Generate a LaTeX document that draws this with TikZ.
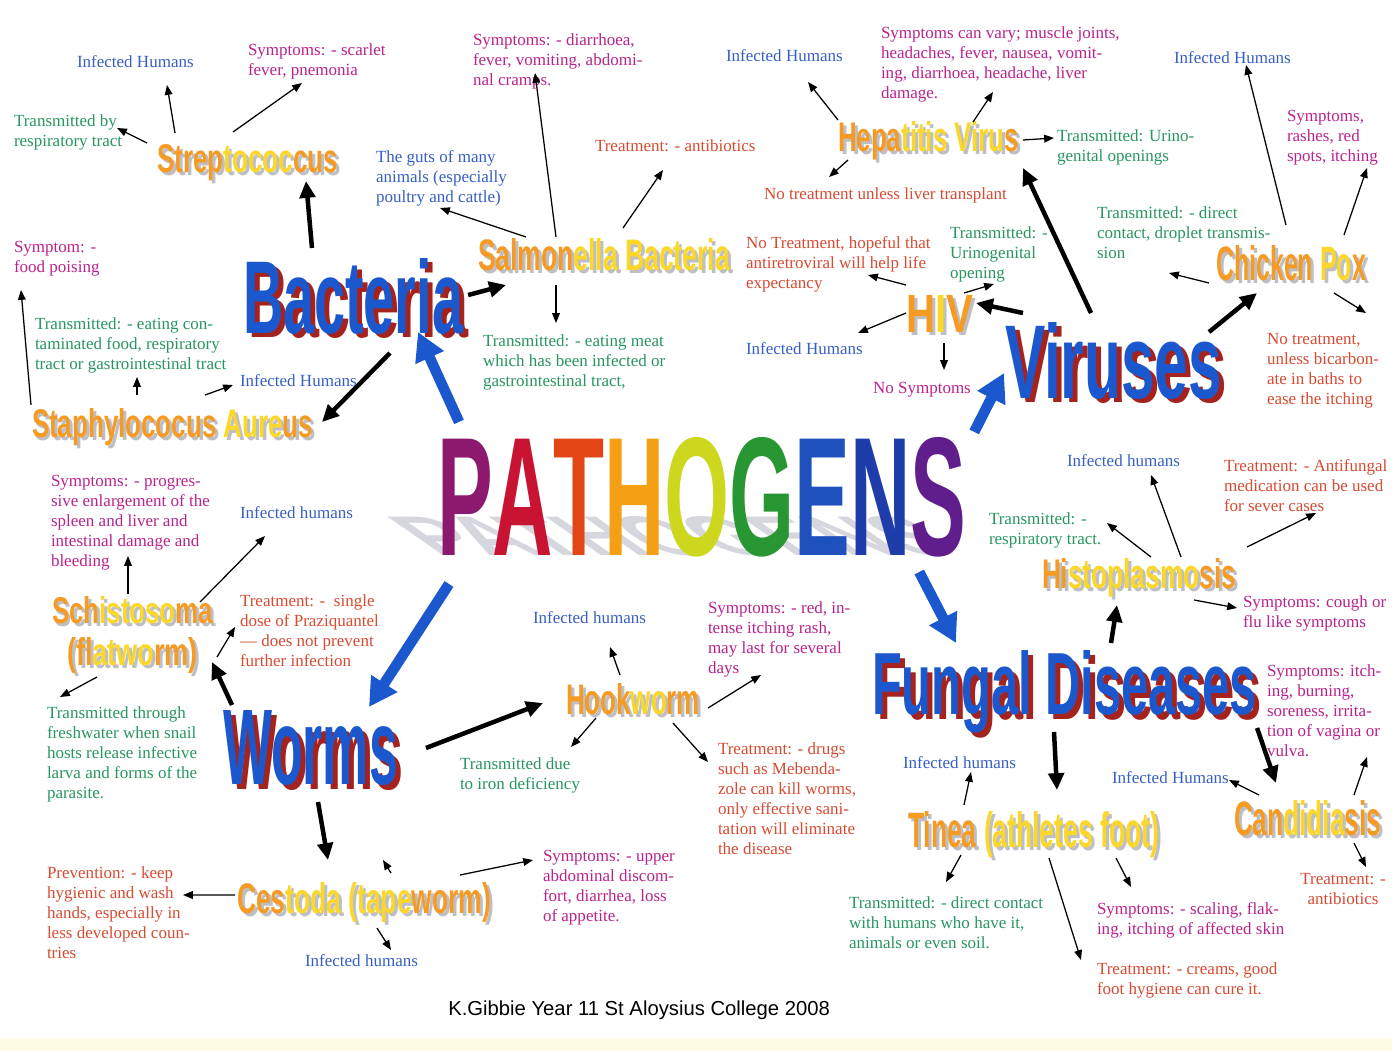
\documentclass[tikz,border=0pt]{standalone}
\usepackage{fontspec}
\setmainfont{Liberation Serif}
\setsansfont{Liberation Sans}
\newfontfamily\headfont{Liberation Sans}
\usepackage{graphicx}
\usetikzlibrary{arrows.meta,calc}

\definecolor{infblue}{RGB}{55,95,195}
\definecolor{symmag}{RGB}{185,35,140}
\definecolor{trngreen}{RGB}{40,150,95}
\definecolor{trtred}{RGB}{215,75,50}
\definecolor{mainblue}{RGB}{28,88,205}
\definecolor{mainshadow}{RGB}{165,35,30}
\definecolor{suborange}{RGB}{245,155,35}
\definecolor{subyel}{RGB}{250,215,40}
\definecolor{subshadow}{RGB}{190,190,198}
\definecolor{pathshade}{RGB}{214,214,222}
\definecolor{bandyel}{RGB}{254,251,228}
\definecolor{pthP}{RGB}{140,25,110}
\definecolor{pthA}{RGB}{200,20,50}
\definecolor{pthT}{RGB}{225,70,20}
\definecolor{pthH}{RGB}{245,160,20}
\definecolor{pthO}{RGB}{205,215,30}
\definecolor{pthG}{RGB}{40,150,50}
\definecolor{pthE}{RGB}{30,80,190}
\definecolor{pthN}{RGB}{30,60,170}
\definecolor{pthS}{RGB}{95,30,140}

% one pixel of the sheet
\newlength\pxu
\setlength\pxu{0.025cm}
\newcommand\plainarg[1]{#1}
\newcommand\yel[1]{\textcolor{subyel}{#1}}
% width, height, text -- with grey drop shadow
\newcommand\subhead[3]{%
  \rlap{\kern3\pxu\raisebox{-3\pxu}{\color{subshadow}\let\yel\plainarg\resizebox{#1\pxu}{#2\pxu}{#3}}}%
  \resizebox{#1\pxu}{#2\pxu}{#3}}
% width, height, text -- with red drop shadow
\newcommand\mainhead[3]{%
  \rlap{\kern5\pxu\raisebox{-5\pxu}{\color{mainshadow}\resizebox{#1\pxu}{#2\pxu}{#3}}}%
  \resizebox{#1\pxu}{#2\pxu}{#3}}

\begin{document}
\begin{tikzpicture}[x=0.025cm,y=-0.025cm,
  txt/.style={anchor=north west,inner sep=0pt,outer sep=0pt,align=left,
    font=\fontsize{12.1}{14.2}\selectfont},
  inf/.style={txt,text=infblue},
  sym/.style={txt,text=symmag},
  trn/.style={txt,text=trngreen},
  trt/.style={txt,text=trtred},
  sub/.style={anchor=base west,inner sep=0pt,outer sep=0pt,
    font=\headfont\bfseries,text=suborange},
  main/.style={sub,text=mainblue},
  credit/.style={anchor=base west,inner sep=0pt,font=\sffamily\fontsize{14.4}{17}\selectfont},
  arr/.style={-{Triangle[length=7pt,width=5.5pt]},line width=0.9pt},
  bigarr/.style={-{Triangle[length=12pt,width=11pt]},line width=3.2pt},
  bluearr/.style={-{Triangle[length=20pt,width=21pt]},draw=mainblue,line width=7.5pt}]
  \useasboundingbox (0,0) rectangle (1392,1051);
  \fill[white] (0,0) rectangle (1392,1051);
  \fill[bandyel] (0,1038) rectangle (1392,1051);

  % centre word and its flat shadow
  \begin{scope}[shift={(437,555)},xslant=-1.44,yscale=0.33]
    \node[sub,text=pathshade,transform shape] (pathsh) at (0,0) {\resizebox{529\pxu}{118\pxu}{PATHOGENS}};
  \end{scope}
  \node[sub] (path) at (437,555) {\resizebox{529\pxu}{118\pxu}{%
    \textcolor{pthP}{P}\textcolor{pthA}{A}\textcolor{pthT}{T}\textcolor{pthH}{H}%
    \textcolor{pthO}{O}\textcolor{pthG}{G}\textcolor{pthE}{E}\textcolor{pthN}{N}\textcolor{pthS}{S}}};

  % main groups
  \node[main] (bact) at (243,333) {\mainhead{220}{75}{Bacteria}};
  \node[main] (vir) at (1005,398) {\mainhead{217}{76}{Viruses}};
  \node[main] (worms) at (223,784) {\mainhead{175}{74}{Worms}};
  \node[main] (fung) at (872,714) {\mainhead{385}{64}{Fungal Diseases}};

  % diseases
  \node[sub] (strep) at (157,173) {\subhead{181}{28}{Strep\yel{tococ}cus}};
  \node[sub] (salm) at (478,270) {\subhead{252}{32}{Salmon\yel{ella Bacteria}}};
  \node[sub] (staph) at (32,437) {\subhead{281}{29}{Staphylococus \yel{Aure}us}};
  \node[sub] (hep) at (838,152) {\subhead{181}{30}{Hepa\yel{titis Viru}s}};
  \node[sub] (hiv) at (906,332) {\subhead{67}{37}{H\yel{I}V}};
  \node[sub] (chick) at (1216,280) {\subhead{150}{35}{Chicken \yel{Po}x}};
  \node[sub] (schis) at (52,623) {\subhead{161}{27}{Sch\yel{istoso}ma}};
  \node[sub] (flat) at (67,665) {\subhead{131}{28}{(fl\yel{atwo}rm)}};
  \node[sub] (hook) at (566,714) {\subhead{134}{31}{Hook\yel{wo}rm}};
  \node[sub] (cest) at (237,913) {\subhead{254}{31}{Ces\yel{toda (tape}worm)}};
  \node[sub] (histo) at (1042,588) {\subhead{194}{30}{Hi\yel{stoplasmo}sis}};
  \node[sub] (tinea) at (908,847) {\subhead{251}{36}{Tinea \yel{(athletes foot)}}};
  \node[sub] (cand) at (1234,835) {\subhead{147}{35}{Can\yel{didia}sis}};

  % notes
  \node[inf] (strepInf) at (77,56) {Infected Humans};
  \node[sym] (strepSym) at (248,44) {Symptoms: - scarlet\\fever, pnemonia};
  \node[trn] (strepTr) at (14,115) {Transmitted by\\respiratory tract};
  \node[sym] (staphSym) at (14,241) {Symptom: -\\food poising};
  \node[trn] (staphTr) at (35,318) {Transmitted: - eating con-\\taminated food, respiratory\\tract or gastrointestinal tract};
  \node[inf] (staphInf) at (240,375) {Infected Humans};
  \node[inf] (salmGut) at (376,151) {The guts of many\\animals (especially\\poultry and cattle)};
  \node[sym] (salmSym) at (473,34) {Symptoms: - diarrhoea,\\fever, vomiting, abdomi-\\nal cramps.};
  \node[trt] (salmTrt) at (595,140) {Treatment: - antibiotics};
  \node[trn] (salmTr) at (483,335) {Transmitted: - eating meat\\which has been infected or\\gastrointestinal tract,};
  \node[inf] (hepInf) at (726,50) {Infected Humans};
  \node[sym] (hepSym) at (881,27) {Symptoms can vary; muscle joints,\\headaches, fever, nausea, vomit-\\ing, diarrhoea, headache, liver\\damage.};
  \node[trn] (hepTr) at (1057,130) {Transmitted: Urino-\\genital openings};
  \node[trt] (hepTrt) at (764,188) {No treatment unless liver transplant};
  \node[trt] (hivTrt) at (746,237) {No Treatment, hopeful that\\antiretroviral will help life\\expectancy};
  \node[trn] (hivTr) at (950,227) {Transmitted: -\\Urinogenital\\opening};
  \node[inf] (hivInf) at (746,343) {Infected Humans};
  \node[sym] (hivSym) at (873,382) {No Symptoms};
  \node[inf] (chickInf) at (1174,52) {Infected Humans};
  \node[sym] (chickSym) at (1287,110) {Symptoms,\\rashes, red\\spots, itching};
  \node[trn] (chickTr) at (1097,207) {Transmitted: - direct\\contact, droplet transmis-\\sion};
  \node[trt] (chickTrt) at (1267,333) {No treatment,\\unless bicarbon-\\ate in baths to\\ease the itching};
  \node[sym] (schisSym) at (51,475) {Symptoms: - progres-\\sive enlargement of the\\spleen and liver and\\intestinal damage and\\bleeding};
  \node[inf] (schisInf) at (240,507) {Infected humans};
  \node[trt] (schisTrt) at (240,595) {Treatment: -\ \ single\\dose of Praziquantel\\— does not prevent\\further infection};
  \node[trn] (schisTr) at (47,707) {Transmitted through\\freshwater when snail\\hosts release infective\\larva and forms of the\\parasite.};
  \node[trt] (cestPrev) at (47,867) {Prevention: - keep\\hygienic and wash\\hands, especially in\\less developed coun-\\tries};
  \node[inf] (cestInf) at (305,955) {Infected humans};
  \node[sym] (cestSym) at (543,850) {Symptoms: - upper\\abdominal discom-\\fort, diarrhea, loss\\of appetite.};
  \node[inf] (hookInf) at (533,612) {Infected humans};
  \node[trn] (hookTr) at (460,758) {Transmitted due\\to iron deficiency};
  \node[sym] (hookSym) at (708,602) {Symptoms: - red, in-\\tense itching rash,\\may last for several\\days};
  \node[trt] (hookTrt) at (718,743) {Treatment: - drugs\\such as Mebenda-\\zole can kill worms,\\only effective sani-\\tation will eliminate\\the disease};
  \node[inf] (histoInf) at (1067,455) {Infected humans};
  \node[trt] (histoTrt) at (1224,460) {Treatment: - Antifungal\\medication can be used\\for sever cases};
  \node[trn] (histoTr) at (989,513) {Transmitted: -\\respiratory tract.};
  \node[sym] (histoSym) at (1243,596) {Symptoms: cough or\\flu like symptoms};
  \node[sym] (candSym) at (1267,665) {Symptoms: itch-\\ing, burning,\\soreness, irrita-\\tion of vagina or\\vulva.};
  \node[inf] (tineaInf) at (903,757) {Infected humans};
  \node[inf] (candInf) at (1112,772) {Infected Humans};
  \node[trn] (tineaTr) at (849,897) {Transmitted: - direct contact\\with humans who have it,\\animals or even soil.};
  \node[sym] (tineaSym) at (1097,903) {Symptoms: - scaling, flak-\\ing, itching of affected skin};
  \node[trt] (tineaTrt) at (1097,963) {Treatment: - creams, good\\foot hygiene can cure it.};
  \node[trt,anchor=north,align=center] (candTrt) at (1343,873) {Treatment: -\\antibiotics};
  \node[credit] (credit) at (448,1015) {K.Gibbie Year 11 St Aloysius College 2008};
  \coordinate (cestFree) at (383,860);

  % pathogens to groups
  \draw[bluearr] ([shift={(22,-15)}]path.north west) -- ([shift={(175,-1)}]bact.base west);
  \draw[bluearr] ([shift={(12,29)}]path.base west) -- ([shift={(146,-3)}]worms.north west);
  \draw[bluearr] ([shift={(8,-5)}]path.north east) -- ([shift={(-1,51)}]vir.north west);
  \draw[bluearr] ([shift={(-47,17)}]path.base east) -- ([shift={(84,-7)}]fung.north west);

  % groups to diseases
  \draw[bigarr] ([shift={(69,-10)}]bact.north west) -- ([shift={(149,36)}]strep.north west);
  \draw[bigarr] ([shift={(5,37)}]bact.north east) -- ([shift={(28,15)}]salm.base west);
  \draw[bigarr] ([shift={(147,20)}]bact.base west) -- ([shift={(9,-15)}]staph.base east);
  \draw[bigarr] ([shift={(86,-9)}]vir.north west) -- ([shift={(4,16)}]hep.base east);
  \draw[bigarr] ([shift={(18,-9)}]vir.north west) -- ([shift={(70,8)}]hiv.north west);
  \draw[bigarr] ([shift={(204,10)}]vir.north west) -- ([shift={(41,13)}]chick.base west);
  \draw[bigarr] ([shift={(9,-5)}]worms.north west) -- ([shift={(14,-3)}]flat.base east);
  \draw[bigarr] ([shift={(28,38)}]worms.north east) -- ([shift={(-23,-11)}]hook.base west);
  \draw[bigarr] ([shift={(95,18)}]worms.base west) -- ([shift={(91,-22)}]cest.north west);
  \draw[bigarr] ([shift={(239,-7)}]fung.north west) -- ([shift={(75,17)}]histo.base west);
  \draw[bigarr] ([shift={(182,18)}]fung.base west) -- ([shift={(149,-21)}]tinea.north west);
  \draw[bigarr] ([shift={(0,14)}]fung.base east) -- ([shift={(42,-17)}]cand.north west);

  % diseases to notes
  \draw[arr] ([shift={(18,-12)}]strep.north west) -- ([shift={(90,29)}]strepInf.north west);
  \draw[arr] ([shift={(76,-13)}]strep.north west) -- ([shift={(54,39)}]strepSym.north west);
  \draw[arr] ([shift={(-10,-2)}]strep.north west) -- ([shift={(103,13)}]strepTr.north west);
  \draw[arr] ([shift={(-1,-3)}]staph.north west) -- ([shift={(7,49)}]staphSym.north west);
  \draw[arr] ([shift={(105,-13)}]staph.north west) -- ([shift={(102,59)}]staphTr.north west);
  \draw[arr] ([shift={(173,-13)}]staph.north west) -- ([shift={(-7,10)}]staphInf.north west);
  \draw[arr] ([shift={(78,-1)}]salm.north west) -- ([shift={(62,39)}]salmSym.north west);
  \draw[arr] ([shift={(48,-1)}]salm.north west) -- ([shift={(64,57)}]salmGut.north west);
  \draw[arr] ([shift={(145,-10)}]salm.north west) -- ([shift={(68,30)}]salmTrt.north west);
  \draw[arr] ([shift={(78,15)}]salm.base west) -- ([shift={(73,-12)}]salmTr.north west);
  \draw[arr] ([shift={(0,-2)}]hep.north west) -- ([shift={(82,32)}]hepInf.north west);
  \draw[arr] ([shift={(135,0)}]hep.north west) -- ([shift={(112,65)}]hepSym.north west);
  \draw[arr] ([shift={(4,-12)}]hep.base east) -- ([shift={(-3,8)}]hepTr.north west);
  \draw[arr] ([shift={(10,8)}]hep.base west) -- ([shift={(65,-11)}]hepTrt.north west);
  \draw[arr] ([shift={(0,-10)}]hiv.north west) -- ([shift={(122,38)}]hivTrt.north west);
  \draw[arr] ([shift={(58,-2)}]hiv.north west) -- ([shift={(44,57)}]hivTr.north west);
  \draw[arr] ([shift={(0,18)}]hiv.north west) -- ([shift={(112,-10)}]hivInf.north west);
  \draw[arr] ([shift={(38,11)}]hiv.base west) -- ([shift={(71,-12)}]hivSym.north west);
  \draw[arr] ([shift={(70,-20)}]chick.north west) -- ([shift={(72,13)}]chickInf.north west);
  \draw[arr] ([shift={(128,-10)}]chick.north west) -- ([shift={(80,58)}]chickSym.north west);
  \draw[arr] ([shift={(-7,3)}]chick.base west) -- ([shift={(72,66)}]chickTr.north west);
  \draw[arr] ([shift={(118,13)}]chick.base west) -- ([shift={(99,-20)}]chickTrt.north west);
  \draw[arr] ([shift={(76,-2)}]schis.north west) -- ([shift={(77,81)}]schisSym.north west);
  \draw[arr] ([shift={(148,6)}]schis.north west) -- ([shift={(25,29)}]schisInf.north west);
  \draw[arr] ([shift={(19,-8)}]flat.base east) -- ([shift={(-5,32)}]schisTrt.north west);
  \draw[arr] ([shift={(30,12)}]flat.base west) -- ([shift={(13,-10)}]schisTr.north west);
  \draw[arr] ([shift={(-2,13)}]cest.north west) -- ([shift={(136,28)}]cestPrev.north west);
  \draw[arr] ([shift={(140,15)}]cest.base west) -- ([shift={(86,-5)}]cestInf.north west);
  \draw[arr] ([shift={(223,-7)}]cest.north west) -- ([shift={(-10,10)}]cestSym.north west);
  \draw[arr] ([shift={(154,-9)}]cest.north west) -- (cestFree);
  \draw[arr] ([shift={(54,-8)}]hook.north west) -- ([shift={(77,35)}]hookInf.north west);
  \draw[arr] ([shift={(30,4)}]hook.base west) -- ([shift={(111,-11)}]hookTr.north west);
  \draw[arr] ([shift={(8,-6)}]hook.base east) -- ([shift={(53,73)}]hookSym.north west);
  \draw[arr] ([shift={(107,9)}]hook.base west) -- ([shift={(-10,19)}]hookTrt.north west);
  \draw[arr] ([shift={(109,-1)}]histo.north west) -- ([shift={(118,10)}]histoTr.north west);
  \draw[arr] ([shift={(139,-1)}]histo.north west) -- ([shift={(84,20)}]histoInf.north west);
  \draw[arr] ([shift={(11,-11)}]histo.north east) -- ([shift={(92,53)}]histoTrt.north west);
  \draw[arr] ([shift={(152,12)}]histo.base west) -- ([shift={(-6,12)}]histoSym.north west);
  \draw[arr] ([shift={(56,-6)}]tinea.north west) -- ([shift={(68,15)}]tineaInf.north west);
  \draw[arr] ([shift={(53,8)}]tinea.base west) -- ([shift={(97,-15)}]tineaTr.north west);
  \draw[arr] ([shift={(208,11)}]tinea.base west) -- ([shift={(34,-16)}]tineaSym.north west);
  \draw[arr] ([shift={(141,11)}]tinea.base west) -- ([shift={(-16,-3)}]tineaTrt.north west);
  \draw[arr] ([shift={(25,-5)}]cand.north west) -- ([shift={(117,8)}]candInf.north west);
  \draw[arr] ([shift={(120,-5)}]cand.north west) -- ([shift={(100,92)}]candSym.north west);
  \draw[arr] ([shift={(120,8)}]cand.base west) -- ([shift={(23,-6)}]candTrt.north);
\end{tikzpicture}
\end{document}
